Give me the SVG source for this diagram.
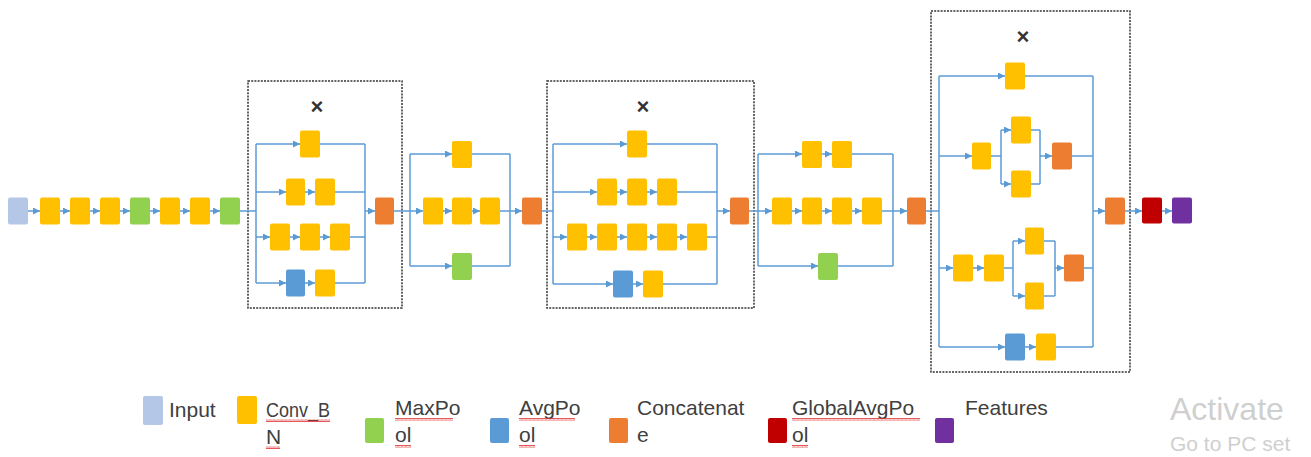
<svg xmlns="http://www.w3.org/2000/svg" width="1311" height="457" viewBox="0 0 1311 457">
<defs>
<marker id="ah" markerWidth="7" markerHeight="7" refX="7" refY="3.5" orient="auto" markerUnits="userSpaceOnUse">
<path d="M0,0 L7,3.5 L0,7 z" fill="#5B9BD5"/>
</marker>
<pattern id="squig" width="4" height="3" patternUnits="userSpaceOnUse">
<path d="M0,2.5 L1,0.5 L2,2.5 L3,0.5 L4,2.5" fill="none" stroke="#e03030" stroke-width="0.8"/>
</pattern>
</defs>
<style>
.ln{fill:none;stroke:#5B9BD5;stroke-width:1.5}
.ar{fill:none;stroke:#5B9BD5;stroke-width:1.5;marker-end:url(#ah)}
.b{stroke:none}
.in{fill:#B4C7E7}
.cv{fill:#FFC000}
.mp{fill:#92D050}
.ap{fill:#5B9BD5}
.cc{fill:#ED7D31}
.gp{fill:#C00000}
.ft{fill:#7030A0}
.dash{fill:none;stroke:#333;stroke-width:1.5;stroke-dasharray:2 1.2}
.x{font-family:"Liberation Sans",Arial,sans-serif;font-size:22px;font-weight:bold;fill:#333}
.lg{font-family:"Liberation Sans",Arial,sans-serif;font-size:21px;fill:#404040}
.wm1{font-family:"Liberation Sans",Arial,sans-serif;font-size:32px;fill:#cfcfcf}
.wm2{font-family:"Liberation Sans",Arial,sans-serif;font-size:21px;fill:#cfcfcf}
.sq{fill:url(#squig)}
</style>
<rect width="1311" height="457" fill="#ffffff"/>

<g id="frames">
<rect class="dash" x="248" y="81" width="154" height="227"/>
<text class="x" x="317" y="114" text-anchor="middle">×</text>
<rect class="dash" x="547" y="81" width="207" height="227"/>
<text class="x" x="643" y="114" text-anchor="middle">×</text>
<rect class="dash" x="931" y="11" width="199" height="361"/>
<text class="x" x="1023" y="44" text-anchor="middle">×</text>
</g>

<g id="connectors">
<line class="ar" x1="28" y1="211" x2="40" y2="211"/>
<line class="ar" x1="60" y1="211" x2="70" y2="211"/>
<line class="ar" x1="90" y1="211" x2="100" y2="211"/>
<line class="ar" x1="120" y1="211" x2="130" y2="211"/>
<line class="ar" x1="150" y1="211" x2="160" y2="211"/>
<line class="ar" x1="180" y1="211" x2="190" y2="211"/>
<line class="ar" x1="210" y1="211" x2="220" y2="211"/>
<line class="ln" x1="240" y1="211" x2="256" y2="211"/>
<line class="ln" x1="256" y1="144" x2="256" y2="283"/>
<line class="ar" x1="256" y1="144" x2="300" y2="144"/>
<line class="ln" x1="320" y1="144" x2="365" y2="144"/>
<line class="ar" x1="256" y1="192" x2="286" y2="192"/>
<line class="ar" x1="305" y1="192" x2="315" y2="192"/>
<line class="ln" x1="335" y1="192" x2="365" y2="192"/>
<line class="ar" x1="256" y1="237" x2="270" y2="237"/>
<line class="ar" x1="290" y1="237" x2="300" y2="237"/>
<line class="ar" x1="320" y1="237" x2="330" y2="237"/>
<line class="ln" x1="350" y1="237" x2="365" y2="237"/>
<line class="ar" x1="256" y1="283" x2="286" y2="283"/>
<line class="ar" x1="305" y1="283" x2="315" y2="283"/>
<line class="ln" x1="335" y1="283" x2="365" y2="283"/>
<line class="ln" x1="365" y1="144" x2="365" y2="283"/>
<line class="ar" x1="365" y1="211" x2="375" y2="211"/>
<line class="ln" x1="394" y1="211" x2="410" y2="211"/>
<line class="ln" x1="410" y1="154" x2="410" y2="266"/>
<line class="ar" x1="410" y1="154" x2="452" y2="154"/>
<line class="ln" x1="472" y1="154" x2="510" y2="154"/>
<line class="ar" x1="410" y1="211" x2="423" y2="211"/>
<line class="ar" x1="443" y1="211" x2="452" y2="211"/>
<line class="ar" x1="472" y1="211" x2="480" y2="211"/>
<line class="ln" x1="500" y1="211" x2="510" y2="211"/>
<line class="ar" x1="410" y1="266" x2="452" y2="266"/>
<line class="ln" x1="472" y1="266" x2="510" y2="266"/>
<line class="ln" x1="510" y1="154" x2="510" y2="266"/>
<line class="ar" x1="510" y1="211" x2="522" y2="211"/>
<line class="ln" x1="542" y1="211" x2="553" y2="211"/>
<line class="ln" x1="553" y1="144" x2="553" y2="284"/>
<line class="ar" x1="553" y1="144" x2="627" y2="144"/>
<line class="ln" x1="647" y1="144" x2="717" y2="144"/>
<line class="ar" x1="553" y1="192" x2="597" y2="192"/>
<line class="ar" x1="617" y1="192" x2="627" y2="192"/>
<line class="ar" x1="647" y1="192" x2="657" y2="192"/>
<line class="ln" x1="677" y1="192" x2="717" y2="192"/>
<line class="ar" x1="553" y1="237" x2="567" y2="237"/>
<line class="ar" x1="587" y1="237" x2="597" y2="237"/>
<line class="ar" x1="617" y1="237" x2="627" y2="237"/>
<line class="ar" x1="647" y1="237" x2="657" y2="237"/>
<line class="ar" x1="677" y1="237" x2="687" y2="237"/>
<line class="ln" x1="707" y1="237" x2="717" y2="237"/>
<line class="ar" x1="553" y1="284" x2="613" y2="284"/>
<line class="ar" x1="633" y1="284" x2="643" y2="284"/>
<line class="ln" x1="663" y1="284" x2="717" y2="284"/>
<line class="ln" x1="717" y1="144" x2="717" y2="284"/>
<line class="ar" x1="717" y1="211" x2="730" y2="211"/>
<line class="ln" x1="749" y1="211" x2="758" y2="211"/>
<line class="ln" x1="758" y1="154" x2="758" y2="266"/>
<line class="ar" x1="758" y1="154" x2="802" y2="154"/>
<line class="ar" x1="822" y1="154" x2="832" y2="154"/>
<line class="ln" x1="852" y1="154" x2="893" y2="154"/>
<line class="ar" x1="758" y1="211" x2="772" y2="211"/>
<line class="ar" x1="792" y1="211" x2="802" y2="211"/>
<line class="ar" x1="822" y1="211" x2="832" y2="211"/>
<line class="ar" x1="852" y1="211" x2="862" y2="211"/>
<line class="ln" x1="882" y1="211" x2="893" y2="211"/>
<line class="ar" x1="758" y1="266" x2="818" y2="266"/>
<line class="ln" x1="838" y1="266" x2="893" y2="266"/>
<line class="ln" x1="893" y1="154" x2="893" y2="266"/>
<line class="ar" x1="893" y1="211" x2="907" y2="211"/>
<line class="ln" x1="926" y1="211" x2="939" y2="211"/>
<line class="ln" x1="939" y1="76" x2="939" y2="347"/>
<line class="ar" x1="939" y1="76" x2="1005" y2="76"/>
<line class="ln" x1="1025" y1="76" x2="1093" y2="76"/>
<line class="ar" x1="939" y1="156" x2="972" y2="156"/>
<line class="ln" x1="991" y1="156" x2="1001" y2="156"/>
<line class="ln" x1="1001" y1="130" x2="1001" y2="184"/>
<line class="ar" x1="1001" y1="130" x2="1011" y2="130"/>
<line class="ar" x1="1001" y1="184" x2="1011" y2="184"/>
<line class="ln" x1="1031" y1="130" x2="1040" y2="130"/>
<line class="ln" x1="1031" y1="184" x2="1040" y2="184"/>
<line class="ln" x1="1040" y1="130" x2="1040" y2="184"/>
<line class="ar" x1="1040" y1="156" x2="1052" y2="156"/>
<line class="ln" x1="1072" y1="156" x2="1093" y2="156"/>
<line class="ar" x1="939" y1="268" x2="953" y2="268"/>
<line class="ar" x1="973" y1="268" x2="984" y2="268"/>
<line class="ln" x1="1004" y1="268" x2="1013" y2="268"/>
<line class="ln" x1="1013" y1="241" x2="1013" y2="296"/>
<line class="ar" x1="1013" y1="241" x2="1025" y2="241"/>
<line class="ar" x1="1013" y1="296" x2="1025" y2="296"/>
<line class="ln" x1="1044" y1="241" x2="1055" y2="241"/>
<line class="ln" x1="1044" y1="296" x2="1055" y2="296"/>
<line class="ln" x1="1055" y1="241" x2="1055" y2="296"/>
<line class="ar" x1="1055" y1="268" x2="1064" y2="268"/>
<line class="ln" x1="1084" y1="268" x2="1093" y2="268"/>
<line class="ar" x1="939" y1="347" x2="1005" y2="347"/>
<line class="ar" x1="1025" y1="347" x2="1036" y2="347"/>
<line class="ln" x1="1056" y1="347" x2="1093" y2="347"/>
<line class="ln" x1="1093" y1="76" x2="1093" y2="347"/>
<line class="ar" x1="1093" y1="211" x2="1105" y2="211"/>
<line class="ar" x1="1125" y1="211" x2="1142" y2="211"/>
<line class="ar" x1="1162" y1="211" x2="1172" y2="211"/>
</g>

<g id="stem">
<rect class="b in" x="8" y="197.5" width="20" height="27" rx="2"/>
<rect class="b cv" x="40" y="197.5" width="20" height="27" rx="2"/>
<rect class="b cv" x="70" y="197.5" width="20" height="27" rx="2"/>
<rect class="b cv" x="100" y="197.5" width="20" height="27" rx="2"/>
<rect class="b mp" x="130" y="197.5" width="20" height="27" rx="2"/>
<rect class="b cv" x="160" y="197.5" width="20" height="27" rx="2"/>
<rect class="b cv" x="190" y="197.5" width="20" height="27" rx="2"/>
<rect class="b mp" x="220" y="197.5" width="20" height="27" rx="2"/>
</g>

<g id="block1">
<rect class="b cv" x="300" y="130.5" width="20" height="27" rx="2"/>
<rect class="b cv" x="286" y="178.5" width="19" height="27" rx="2"/>
<rect class="b cv" x="315" y="178.5" width="20" height="27" rx="2"/>
<rect class="b cv" x="270" y="223.5" width="20" height="27" rx="2"/>
<rect class="b cv" x="300" y="223.5" width="20" height="27" rx="2"/>
<rect class="b cv" x="330" y="223.5" width="20" height="27" rx="2"/>
<rect class="b ap" x="286" y="269.5" width="19" height="27" rx="2"/>
<rect class="b cv" x="315" y="269.5" width="20" height="27" rx="2"/>
<rect class="b cc" x="375" y="197.5" width="19" height="27" rx="2"/>
</g>

<g id="block2">
<rect class="b cv" x="452" y="141" width="20" height="27" rx="2"/>
<rect class="b cv" x="423" y="197.5" width="20" height="27" rx="2"/>
<rect class="b cv" x="452" y="197.5" width="20" height="27" rx="2"/>
<rect class="b cv" x="480" y="197.5" width="20" height="27" rx="2"/>
<rect class="b mp" x="452" y="253" width="20" height="27" rx="2"/>
<rect class="b cc" x="522" y="197.5" width="20" height="27" rx="2"/>
</g>

<g id="block3">
<rect class="b cv" x="627" y="130.5" width="20" height="27" rx="2"/>
<rect class="b cv" x="597" y="178.5" width="20" height="27" rx="2"/>
<rect class="b cv" x="627" y="178.5" width="20" height="27" rx="2"/>
<rect class="b cv" x="657" y="178.5" width="20" height="27" rx="2"/>
<rect class="b cv" x="567" y="223.5" width="20" height="27" rx="2"/>
<rect class="b cv" x="597" y="223.5" width="20" height="27" rx="2"/>
<rect class="b cv" x="627" y="223.5" width="20" height="27" rx="2"/>
<rect class="b cv" x="657" y="223.5" width="20" height="27" rx="2"/>
<rect class="b cv" x="687" y="223.5" width="20" height="27" rx="2"/>
<rect class="b ap" x="613" y="270.5" width="20" height="27" rx="2"/>
<rect class="b cv" x="643" y="270.5" width="20" height="27" rx="2"/>
<rect class="b cc" x="730" y="197.5" width="19" height="27" rx="2"/>
</g>

<g id="block4">
<rect class="b cv" x="802" y="141" width="20" height="27" rx="2"/>
<rect class="b cv" x="832" y="141" width="20" height="27" rx="2"/>
<rect class="b cv" x="772" y="197.5" width="20" height="27" rx="2"/>
<rect class="b cv" x="802" y="197.5" width="20" height="27" rx="2"/>
<rect class="b cv" x="832" y="197.5" width="20" height="27" rx="2"/>
<rect class="b cv" x="862" y="197.5" width="20" height="27" rx="2"/>
<rect class="b mp" x="818" y="253" width="20" height="27" rx="2"/>
<rect class="b cc" x="907" y="197.5" width="19" height="27" rx="2"/>
</g>

<g id="block5">
<rect class="b cv" x="1005" y="62.5" width="20" height="27" rx="2"/>
<rect class="b cv" x="972" y="142.5" width="19" height="27" rx="2"/>
<rect class="b cv" x="1011" y="116.5" width="20" height="27" rx="2"/>
<rect class="b cv" x="1011" y="170.5" width="20" height="27" rx="2"/>
<rect class="b cc" x="1052" y="142.5" width="20" height="27" rx="2"/>
<rect class="b cv" x="953" y="254.5" width="20" height="27" rx="2"/>
<rect class="b cv" x="984" y="254.5" width="20" height="27" rx="2"/>
<rect class="b cv" x="1025" y="227.5" width="19" height="27" rx="2"/>
<rect class="b cv" x="1025" y="282.5" width="19" height="27" rx="2"/>
<rect class="b cc" x="1064" y="254.5" width="20" height="27" rx="2"/>
<rect class="b ap" x="1005" y="333.5" width="20" height="27" rx="2"/>
<rect class="b cv" x="1036" y="333.5" width="20" height="27" rx="2"/>
<rect class="b cc" x="1105" y="197.5" width="20" height="27" rx="2"/>
</g>

<g id="head">
<rect class="b gp" x="1142" y="197.5" width="20" height="26" rx="2"/>
<rect class="b ft" x="1172" y="197.5" width="20" height="26" rx="2"/>
</g>

<g id="legend">
<rect class="b in" x="143" y="396" width="20" height="29" rx="2"/>
<text class="lg" x="169" y="417">Input</text>
<rect class="b cv" x="237" y="396" width="20" height="28" rx="2"/>
<text class="lg" x="266" y="417" textLength="64" lengthAdjust="spacingAndGlyphs">Conv_B</text>
<text class="lg" x="266" y="444">N</text>
<rect class="sq" x="266" y="419" width="64" height="3"/>
<rect class="sq" x="266" y="446" width="14" height="3"/>
<rect class="b mp" x="365" y="418" width="19" height="25" rx="2"/>
<text class="lg" x="395" y="415">MaxPo</text>
<text class="lg" x="395" y="442">ol</text>
<rect class="sq" x="395" y="418" width="58" height="3"/>
<rect class="sq" x="395" y="445" width="16" height="3"/>
<rect class="b ap" x="490" y="418" width="19" height="25" rx="2"/>
<text class="lg" x="519" y="415">AvgPo</text>
<text class="lg" x="519" y="442">ol</text>
<rect class="sq" x="519" y="418" width="56" height="3"/>
<rect class="sq" x="519" y="445" width="16" height="3"/>
<rect class="b cc" x="609" y="418" width="19" height="25" rx="2"/>
<text class="lg" x="637" y="415">Concatenat</text>
<text class="lg" x="637" y="442">e</text>
<rect class="b gp" x="768" y="418" width="19" height="25" rx="2"/>
<text class="lg" x="792" y="415">GlobalAvgPo</text>
<text class="lg" x="792" y="442">ol</text>
<rect class="sq" x="792" y="418" width="128" height="3"/>
<rect class="sq" x="792" y="445" width="16" height="3"/>
<rect class="b ft" x="935" y="418" width="19" height="25" rx="2"/>
<text class="lg" x="965" y="415">Features</text>
</g>

<g id="watermark">
<text class="wm1" x="1170" y="420">Activate</text>
<text class="wm2" x="1170" y="451">Go to PC set</text>
</g>
</svg>
